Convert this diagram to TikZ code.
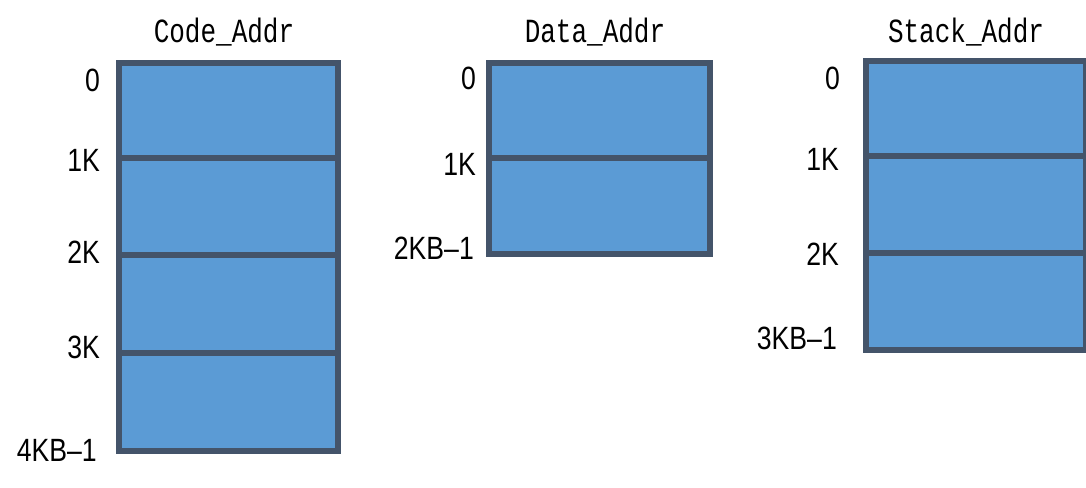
\documentclass[tikz,border=0pt]{standalone}
\usepackage{fontspec}
\usepackage{graphicx}
\setmainfont{Liberation Sans}
\newfontfamily\titlefont{Liberation Mono}
\definecolor{cellfill}{HTML}{5B9BD5}
\definecolor{cellline}{HTML}{44546A}
\newcommand{\tall}[1]{\scalebox{0.95}[1.15]{#1}}
\begin{document}
\begin{tikzpicture}[x=1pt,y=-1pt,
  cell/.style={draw=cellline, fill=cellfill, line width=6pt, rectangle, anchor=north west, inner sep=0pt, minimum width=#1},
  addr/.style={anchor=east, inner sep=0pt, font=\fontsize{28}{30}\selectfont},
  ttl/.style={inner sep=0pt, font=\titlefont\fontsize{26}{28}\selectfont}]
\useasboundingbox (0,0) rectangle (1086,487);
% Code_Addr
\node[cell=219, minimum height=95] (c1) at (116,60) {};
\node[cell=219, minimum height=97] (c2) at (116,155) {};
\node[cell=219, minimum height=98] (c3) at (116,252) {};
\node[cell=219, minimum height=98] (c4) at (116,350) {};
\node[ttl] (ct) at (224,32) {\scalebox{1}[1.3]{Code\_Addr}};
\node[addr] (c0l) at (100,80) {\tall{0}};
\node[addr] (c1l) at (100,160) {\tall{1K}};
\node[addr] (c2l) at (100,252) {\tall{2K}};
\node[addr] (c3l) at (100,347) {\tall{3K}};
\node[addr] (c4l) at (97,450) {\tall{4KB--1}};
% Data_Addr
\node[cell=221, minimum height=95] (d1) at (486,60) {};
\node[cell=221, minimum height=96] (d2) at (486,155) {};
\node[ttl] (dt) at (595,32) {\scalebox{1}[1.3]{Data\_Addr}};
\node[addr] (d0l) at (476,78) {\tall{0}};
\node[addr] (d1l) at (476,164) {\tall{1K}};
\node[addr] (d2l) at (474,248) {\tall{2KB--1}};
% Stack_Addr
\node[cell=220, minimum height=95] (s1) at (863,58) {};
\node[cell=220, minimum height=97] (s2) at (863,153) {};
\node[cell=220, minimum height=97] (s3) at (863,250) {};
\node[ttl] (st) at (966,32) {\scalebox{1}[1.3]{Stack\_Addr}};
\node[addr] (s0l) at (840,78) {\tall{0}};
\node[addr] (s1l) at (839,159) {\tall{1K}};
\node[addr] (s2l) at (839,254) {\tall{2K}};
\node[addr] (s3l) at (837,338) {\tall{3KB--1}};
\end{tikzpicture}
\end{document}
